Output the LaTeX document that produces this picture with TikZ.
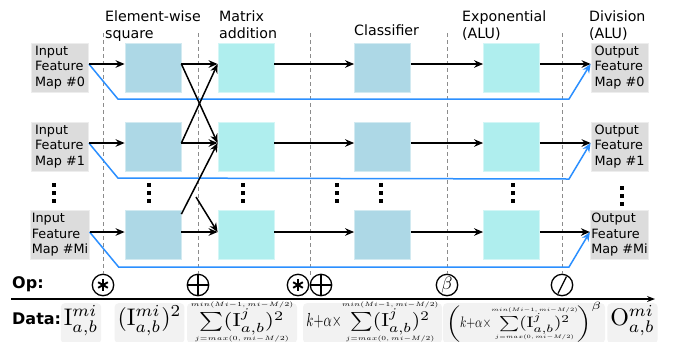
\documentclass[tikz,border=0pt]{standalone}
\usepackage[no-math]{fontspec}
\newfontfamily\dv{DejaVu Sans}
\usepackage{graphicx}
\usetikzlibrary{arrows.meta,calc}

\definecolor{sqcol}{HTML}{ADD8E6}
\definecolor{addcol}{HTML}{AFEEEE}
\definecolor{iocol}{HTML}{DCDCDC}
\definecolor{datcol}{HTML}{F2F2F2}
\definecolor{flowblue}{HTML}{2B8FFF}
\definecolor{sepcol}{HTML}{8C8C8C}

% limits of the sums, set small and without binary spacing
\newcommand\lmt[1]{\scalebox{0.66}{\fontsize{5}{5}\selectfont$#1$}}
% three centred rows (upper limit, body, lower limit), baseline on the body
\newsavebox\stkU \newsavebox\stkB \newsavebox\stkL
\newdimen\stkW
\newcommand\stk[3]{%
  \sbox\stkU{#1}\sbox\stkB{#2}\sbox\stkL{#3}%
  \stkW=\wd\stkU
  \ifdim\wd\stkB>\stkW \stkW=\wd\stkB\fi
  \ifdim\wd\stkL>\stkW \stkW=\wd\stkL\fi
  \vtop{\offinterlineskip
    \vbox{\offinterlineskip
      \hbox to\stkW{\hfil\usebox\stkU\hfil}\kern0.4pt
      \hbox to\stkW{\hfil\usebox\stkB\hfil}}%
    \kern0.4pt
    \hbox to\stkW{\hfil\usebox\stkL\hfil}}}
\newcommand\ssum{\stk{\lmt{min(Mi{-}1,mi{-}M/2)}}%
  {$\textstyle\sum(\mathrm{I}^{j}_{a,b})^{2}$}%
  {\lmt{j{=}max(0,mi{-}M/2)}}}
\newcommand\kalpha{\scalebox{0.6}[1]{$k{+}\alpha{\times}$}}
% fit a formula to a given width and 40pt total height, 17pt below the baseline
\newsavebox\datbox
\newcommand\fitdat[2]{%
  \sbox\datbox{\resizebox*{#1}{40pt}{$#2$}}%
  \raisebox{\dimexpr\dp\datbox-17pt\relax}{\usebox\datbox}}
\newcommand\datmath[1]{\scalebox{2.4}{$#1$}}

\begin{document}
\begin{tikzpicture}[x=1pt,y=-1pt,
  sqbox/.style={rectangle, fill=sqcol, draw=sqcol!55!white, line width=0.8pt,
    minimum width=56pt, minimum height=49pt, inner sep=0pt},
  addbox/.style={rectangle, fill=addcol, draw=addcol!55!white, line width=0.8pt,
    minimum width=56pt, minimum height=49pt, inner sep=0pt},
  iobox/.style={rectangle, fill=iocol, draw=iocol!50!white, line width=0.8pt,
    minimum width=57pt, minimum height=49pt, inner xsep=1pt, inner ysep=0pt,
    align=left, font=\dv\fontsize{12.8}{15.5}\selectfont},
  hdr/.style={anchor=base west, inner sep=0pt, text width=110pt, align=left,
    font=\dv\fontsize{14.2}{17}\selectfont},
  rowlabel/.style={anchor=base west, inner sep=0pt, font=\dv\bfseries\fontsize{16}{18}\selectfont},
  stagesep/.style={draw=sepcol, dash pattern=on 4pt off 3pt, line width=0.9pt},
  arr/.style={draw=black, line width=1.5pt, -{Stealth[length=9pt,width=7.5pt]}},
  barr/.style={draw=flowblue, line width=1.5pt, -{Stealth[length=9pt,width=7.5pt]}},
  axis/.style={draw=black, line width=1.4pt, -{Stealth[length=8pt,width=6pt]}},
  opc/.style={circle, draw=black, line width=1.3pt, minimum size=21.4pt, inner sep=0pt, fill=white},
  opmul/.style={opc, path picture={
      \foreach \a in {90,30,150}
        \draw[line width=1.9pt] ($(path picture bounding box.center)+(\a:5.6)$) -- ($(path picture bounding box.center)+(\a+180:5.6)$);}},
  opadd/.style={opc, path picture={
      \draw[line width=1.3pt] ($(path picture bounding box.center)+(-11,0)$) -- ($(path picture bounding box.center)+(11,0)$);
      \draw[line width=1.3pt] ($(path picture bounding box.center)+(0,-11)$) -- ($(path picture bounding box.center)+(0,11)$);}},
  opdiv/.style={opc, path picture={
      \draw[line width=1.3pt] ($(path picture bounding box.center)+(-4,8.5)$) -- ($(path picture bounding box.center)+(4.5,-8.5)$);}},
  datbox/.style={anchor=north, fill=datcol, rounded corners=4pt, inner xsep=3pt, inner ysep=0pt,
    text height=22pt, text depth=18pt},
  vd/.pic={\fill (-1.7,-9.7) rectangle (1.7,-6.3);
           \fill (-1.7,-1.7) rectangle (1.7,1.7);
           \fill (-1.7,6.3) rectangle (1.7,9.7);}
]
\useasboundingbox (0,0) rectangle (674,341);
\clip (0,0) rectangle (674,341);
\fill[white] (0,0) rectangle (674,341);

% stage headers
\node[hdr] (h1) at (105,21) {Element-wise\\square};
\node[hdr] (h2) at (219,21) {Matrix\\addition};
\node[hdr] (h3) at (354,35) {Classifier};
\node[hdr] (h4) at (462,21) {Exponential\\(ALU)};
\node[hdr] (h5) at (589,21) {Division\\(ALU)};

% operators
\node[opmul] (op1) at (103,285) {};
\node[opadd] (op2) at (198,285) {};
\node[opmul] (op3) at (298,285) {};
\node[opadd] (op4) at (321,285) {};
\node[opc] (op5) at (447,285) {\scalebox{1.8}{$\beta$}};
\node[opdiv] (op6) at (562,285) {};

% stage separators
\draw[stagesep] (op1.north |- 0,33) -- (op1.north);
\draw[stagesep] (op2.north |- 0,33) -- (op2.north);
\coordinate (s3a) at (310,33);
\coordinate (s3b) at (310,276);
\draw[stagesep] (s3a) -- (s3b);
\draw[stagesep] (op5.north |- 0,33) -- (op5.north);
\draw[stagesep] (op6.north |- 0,33) -- (op6.north);

% the three feature-map rows
\foreach \r/\cy/\ay/\by/\lab in {0/67.5/64/99/0, 1/146.5/143/179/1, 2/235/232/267/Mi}{
  \coordinate (r\r) at (0,\ay);
  \node[iobox] (in\r) at (60,\cy) {Input\\Feature\\Map \#\lab};
  \node[sqbox] (sq\r) at (153,\cy) {};
  \node[addbox] (ad\r) at (246,\cy) {};
  \node[sqbox] (cl\r) at (382.5,\cy) {};
  \node[addbox] (ex\r) at (511.5,\cy) {};
  \node[iobox] (out\r) at (619.5,\cy) {Output\\Feature\\Map \#\lab};
  \draw[barr] (in\r.east |- r\r) -- ++(29,35) -- (569,\by) -- (out\r.west |- r\r);
  \draw[arr] (in\r.east |- r\r) -- (sq\r.west |- r\r);
  \draw[arr] (sq\r.east |- r\r) -- (ad\r.west |- r\r);
  \draw[arr] (ad\r.east |- r\r) -- (cl\r.west |- r\r);
  \draw[arr] (cl\r.east |- r\r) -- (ex\r.west |- r\r);
  \draw[arr] (ex\r.east |- r\r) -- (out\r.west |- r\r);
}

% neighbouring maps feeding the addition
\draw[arr] (sq0.east |- r0) -- (ad1.west |- r1);
\draw[arr] (sq1.east |- r1) -- (ad0.west |- r0);
\draw[arr] ([yshift=-4pt]sq2.north east) -- (ad1.west |- r1);
\coordinate (xs) at (196,197);
\draw[arr] (xs) -- (ad2.west |- r2);

% elided rows
\pic at (54,193) {vd};
\pic at (149,193) {vd};
\pic at (243,193) {vd};
\pic at (337,193) {vd};
\pic at (381,193) {vd};
\pic at (513,193) {vd};
\pic at (622,196) {vd};

% operation / data rows
\node[rowlabel] (oplab) at (12,288) {Op:};
\node[rowlabel] (datlab) at (12,324) {Data:};
\coordinate (ax0) at (11,299);
\coordinate (ax1) at (655,299);
\draw[axis] (ax0) -- (ax1);

\node[datbox, minimum width=38pt] (d1) at (81,303) {\datmath{\mathrm{I}^{mi}_{a,b}}};
\node[datbox, minimum width=63pt] (d2) at (149.5,303) {\datmath{(\mathrm{I}^{mi}_{a,b})^{2}}};
\node[datbox, minimum width=110pt] (d3) at (242,303) {\fitdat{103pt}{\ssum}};
\node[datbox, minimum width=139pt] (d4) at (372.5,303) {\fitdat{132pt}{\kalpha\ssum}};
\node[datbox, minimum width=158pt] (d5) at (524,303) {\fitdat{156pt}{\left(\kalpha\ssum\right)^{\beta}}};
\node[datbox, minimum width=41pt] (d6) at (632.5,303) {\datmath{\mathrm{O}^{mi}_{a,b}}};
\end{tikzpicture}
\end{document}
